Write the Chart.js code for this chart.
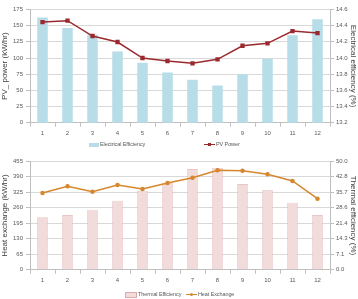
<!DOCTYPE html>
<html>
<head>
<meta charset="utf-8">
<script src="https://cdn.jsdelivr.net/npm/chart.js@4"></script>
<style>
  body { margin: 0; background: #fff; font-family: "Liberation Sans", Arial, sans-serif; }
  #wrap { position: relative; width: 358px; height: 299px; }
  .box { position: absolute; left: 0; width: 358px; }
  .legend { position: absolute; font-size: 5.5px; letter-spacing: -0.1px; color: #595959; white-space: nowrap; line-height: 8px; }
  .swatch { display: inline-block; width: 10px; height: 4px; vertical-align: middle; margin-right: 1px; }
  .lineKey { display: inline-block; position: relative; width: 11px; height: 8px; vertical-align: middle; margin-right: 1px; }
  .lineKey i { position: absolute; left: 0; top: 3px; width: 11px; height: 1.5px; }
  .lineKey b { position: absolute; left: 4px; top: 2px; width: 3px; height: 3px; }
</style>
</head>
<body>
<div id="wrap">
  <div class="box" style="top:0;height:149px"><canvas id="pvChart"></canvas></div>
  <div class="box" style="top:149px;height:150px"><canvas id="heatChart"></canvas></div>

  <div class="legend" style="left:89px;top:140px"><span class="swatch" style="background:#b6dde8"></span>Electrical Efficiency</div>
  <div class="legend" style="left:204px;top:140px"><span class="lineKey"><i style="background:#9b2a2e"></i><b style="background:#9b2a2e"></b></span>PV Power</div>
  <div class="legend" style="left:125px;top:290px"><span class="swatch" style="background:#f2dcdb;border:0.5px solid #dcaaa8"></span>Thermal Efficiency</div>
  <div class="legend" style="left:186px;top:290px"><span class="lineKey"><i style="background:#d6872e"></i><b style="background:#d6872e;border-radius:2px"></b></span>Heat Exchange</div>
</div>
<script>
const months = ['1', '2', '3', '4', '5', '6', '7', '8', '9', '10', '11', '12'];

// top panel
const elecEfficiency = [14.50, 14.37, 14.29, 14.08, 13.94, 13.82, 13.73, 13.66, 13.80, 13.99, 14.28, 14.48];
const pvPower = [155.6, 157.7, 134, 124.7, 100, 95.4, 91.8, 98, 119, 122.7, 141.7, 138.6];
const pvTicks = [0, 25, 50, 75, 100, 125, 150, 175];
const elecTicks = ['13.2', '13.4', '13.6', '13.8', '14.0', '14.2', '14.4', '14.6'];

// bottom panel
const thermalEfficiency = [24.2, 25.2, 27.7, 31.8, 36.3, 40.0, 46.4, 46.9, 39.5, 36.8, 30.9, 25.2];
const heatExchange = [322, 350, 327.5, 355.6, 338.8, 364, 386, 417, 415.6, 400.5, 372.4, 298];
const heatTicks = [0, 65, 130, 195, 260, 325, 390, 455];
const thermalTicks = ['0.0', '7.1', '14.3', '21.4', '28.6', '35.7', '42.8', '50.0'];

const tickFont = { family: 'Liberation Sans', size: 6 };
const titleFont = { family: 'Liberation Sans', size: 8 };
const gridColor = '#d9d9d9';
const axisColor = '#bfbfbf';

function makeChart(id, cfg) {
    const min1 = cfg.leftTicks[0], max1 = cfg.leftTicks[cfg.leftTicks.length - 1];
    const min2 = parseFloat(cfg.rightTicks[0]), max2 = parseFloat(cfg.rightTicks[cfg.rightTicks.length - 1]);
    const n = cfg.rightTicks.length - 1;
    return new Chart(document.getElementById(id), {
        type: 'bar',
        data: {
            labels: months,
            datasets: [{
                type: 'line',
                label: cfg.lineLabel,
                data: cfg.lineData,
                yAxisID: 'y',
                borderColor: cfg.lineColor,
                backgroundColor: cfg.lineColor,
                borderWidth: 1.5,
                pointStyle: cfg.pointStyle,
                pointRadius: cfg.pointRadius,
                tension: 0,
                order: 0
            }, {
                type: 'bar',
                label: cfg.barLabel,
                data: cfg.barData,
                yAxisID: 'y1',
                backgroundColor: cfg.barColor,
                borderColor: cfg.barBorder,
                borderWidth: cfg.barBorderWidth,
                barPercentage: 0.42,
                categoryPercentage: 1,
                order: 1
            }]
        },
        options: {
            responsive: true,
            maintainAspectRatio: false,
            animation: false,
            layout: { padding: { top: cfg.padTop, bottom: cfg.padBottom, left: 0, right: 0 } },
            plugins: { legend: { display: false }, tooltip: { enabled: false } },
            scales: {
                x: {
                    grid: { drawOnChartArea: false, offset: true, tickLength: 4, color: axisColor },
                    border: { color: axisColor },
                    ticks: { font: tickFont, color: '#595959', padding: 3, maxRotation: 0 },
                    afterFit: s => { s.height = 14; }
                },
                y: {
                    position: 'left',
                    min: min1, max: max1,
                    afterBuildTicks: s => { s.ticks = cfg.leftTicks.map(v => ({ value: v })); },
                    grid: { color: gridColor, tickColor: axisColor, tickLength: 4 },
                    border: { color: axisColor },
                    ticks: { font: tickFont, color: '#595959', padding: 3 },
                    title: { display: true, text: cfg.leftTitle, font: titleFont, color: '#404040', padding: { top: 0, bottom: 0 } },
                    afterFit: s => { s.width = 30; }
                },
                y1: {
                    position: 'right',
                    min: min2, max: max2,
                    afterBuildTicks: s => {
                        s.ticks = cfg.rightTicks.map((t, i) => ({ value: min2 + i * (max2 - min2) / n }));
                    },
                    grid: { drawOnChartArea: false, tickColor: axisColor, tickLength: 4 },
                    border: { color: axisColor },
                    ticks: { font: tickFont, color: '#595959', padding: 2, callback: (v, i) => cfg.rightTicks[i] },
                    title: { display: true, text: cfg.rightTitle, font: titleFont, color: '#404040', padding: { top: 0, bottom: 0 } },
                    afterFit: s => { s.width = 28; }
                }
            }
        }
    });
}

makeChart('pvChart', {
    lineLabel: 'PV Power', lineData: pvPower, lineColor: '#9b2a2e', pointStyle: 'rect', pointRadius: 2,
    barLabel: 'Electrical Efficiency', barData: elecEfficiency, barColor: '#b6dde8', barBorder: '#b6dde8', barBorderWidth: 0,
    leftTicks: pvTicks, rightTicks: elecTicks,
    leftTitle: 'PV_ power (kW/hr)', rightTitle: 'Electrical efficiency (%)',
    padTop: 9.5, padBottom: 12.3
});

makeChart('heatChart', {
    lineLabel: 'Heat Exchange', lineData: heatExchange, lineColor: '#d6872e', pointStyle: 'circle', pointRadius: 1.5,
    barLabel: 'Thermal Efficiency', barData: thermalEfficiency, barColor: '#f2dcdb', barBorder: '#dcaaa8', barBorderWidth: 0.6,
    leftTicks: heatTicks, rightTicks: thermalTicks,
    leftTitle: 'Heat exchange (kW/hr)', rightTitle: 'Thermal efficiency (%)',
    padTop: 12.3, padBottom: 15.3
});
</script>
</body>
</html>
